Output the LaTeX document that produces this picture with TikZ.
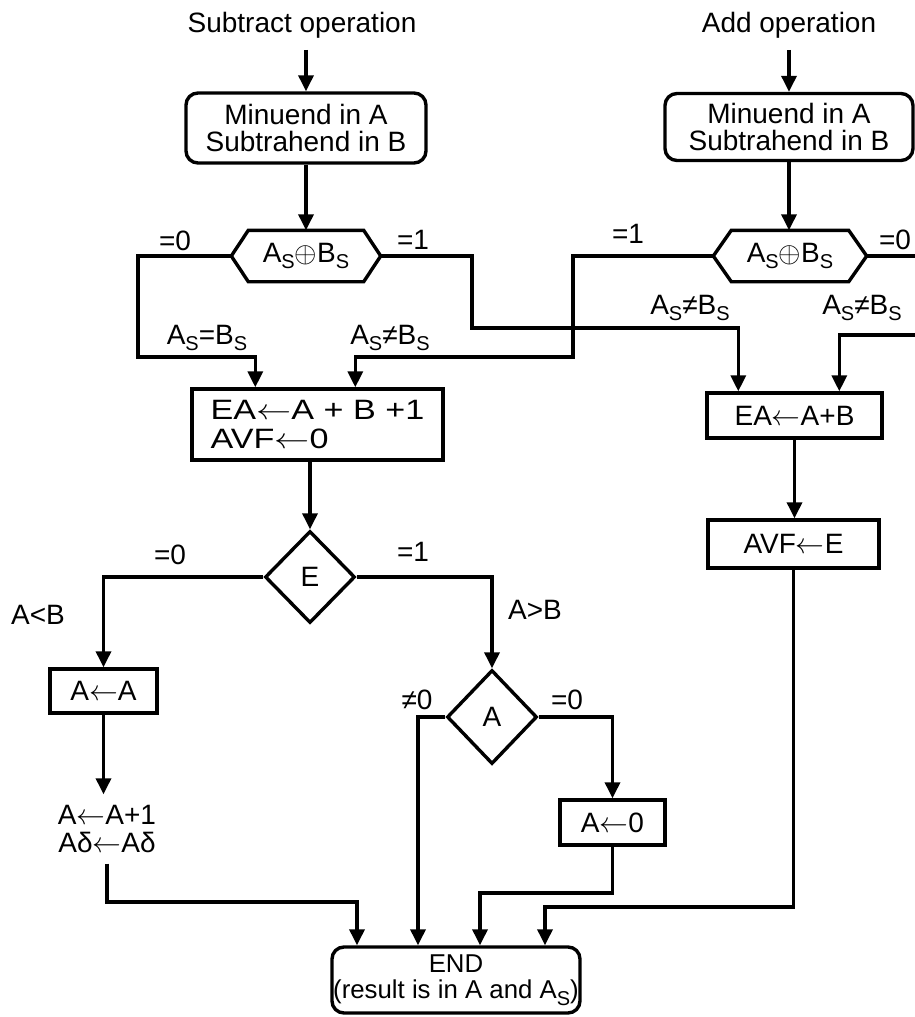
\documentclass[tikz,border=0pt]{standalone}
\usepackage{fontspec}
\usepackage{graphicx}
\setmainfont{Liberation Sans}
\usetikzlibrary{arrows.meta,shapes.geometric,calc}
\newcommand\lsub[1]{\raisebox{-0.45ex}{\fontsize{10}{10}\selectfont #1}}
\newcommand\myarr{\ensuremath{\leftarrow}}
\begin{document}
\begin{tikzpicture}[x=0.5pt,y=-0.5pt, line width=1.7pt,
 every node/.style={font=\fontsize{14}{13.5}\selectfont},
 arr/.style={-{Triangle[length=8pt,width=7.5pt]}},
 box/.style={draw, rectangle, inner sep=0pt},
 rbox/.style={draw, rectangle, rounded corners=6pt, inner sep=0pt, align=center},
 dia/.style={draw, diamond, inner sep=0pt},
 hexnode/.style={inner sep=0pt, minimum height=24pt},
 lbl/.style={inner sep=0pt}]
\useasboundingbox (0,0) rectangle (915,1017);
\fill[white] (0,0) rectangle (915,1017);

% headers
\node[lbl] (sub) at (302,25) {Subtract operation};
\node[lbl] (add) at (789,25) {Add operation};

% start boxes
\node[rbox, minimum width=120pt, minimum height=35pt] (b1) at (306,128) {Minuend in A\\Subtrahend in B};
\node[rbox, minimum width=124pt, minimum height=33.5pt] (b2) at (789,127) {Minuend in A\\Subtrahend in B};

% hexagons
\node[hexnode, minimum width=73pt] (h1) at (306,256) {A\lsub{S}$\oplus$B\lsub{S}};
\draw (h1.west) -- ($(h1.north west)+(17,0)$) -- ($(h1.north east)+(-17,0)$) -- (h1.east)
  -- ($(h1.south east)+(-17,0)$) -- ($(h1.south west)+(17,0)$) -- cycle;
\node[hexnode, minimum width=75pt] (h2) at (790,256) {A\lsub{S}$\oplus$B\lsub{S}};
\draw (h2.west) -- ($(h2.north west)+(18,0)$) -- ($(h2.north east)+(-18,0)$) -- (h2.east)
  -- ($(h2.south east)+(-18,0)$) -- ($(h2.south west)+(18,0)$) -- cycle;

% operation boxes
\node[box, minimum width=125.5pt, minimum height=35.5pt, align=left, font=\fontsize{14}{14.5}\selectfont] (r1) at (317.5,424.5)
  {\scalebox{1.22}[1]{EA\myarr A + B +1}\\\scalebox{1.22}[1]{AVF\myarr 0}};
\node[box, minimum width=87.5pt, minimum height=22.5pt] (r2) at (794.5,415.5) {EA\myarr A+B};
\node[box, minimum width=85.5pt, minimum height=24pt] (avf) at (793.5,544) {AVF\myarr E};

% decisions
\node[dia, minimum width=45pt, minimum height=46pt] (E) at (310,577) {E};
\node[dia, minimum width=45pt, minimum height=47pt] (Ad) at (492,717) {A};

\node[box, minimum width=53.5pt, minimum height=22pt] (lA) at (103.5,691) {A\myarr A};
\node[lbl, minimum height=33pt, align=center, font=\fontsize{14}{14}\selectfont] (t1) at (107,829) {A\myarr A+1\\Aδ\myarr Aδ};
\node[box, minimum width=52.5pt, minimum height=22.5pt] (a0) at (612.5,822.5) {A\myarr 0};

\node[rbox, minimum width=124pt, minimum height=33pt, font=\fontsize{12.9}{13.2}\selectfont] (fin) at (456,980) {END\\(result is in A and A\lsub{S})};

% bend points
\coordinate (p1) at (357,902);
\coordinate (p2) at (418,717);
\coordinate (p3) at (480,893);
\coordinate (p4) at (545,907);

% connectors
\draw[arr, shorten <=5pt] (b1.north |- sub.south) -- (b1.north);
\draw[arr] (b1.south) -- (b1.south |- h1.north);
\draw[arr, shorten <=5pt] (add.south) -- (b2.north);
\draw[arr] (b2.south) -- (b2.south |- h2.north);

\draw[arr] (h1.west) -| (138,357) -| ($(r1.north west)+(65,0)$);
\draw[arr] (h1.east) -| (472,328) -| ($(r2.north west)+(33,0)$);
\draw[arr] (h2.west) -| (573,357) -| ($(r1.north west)+(165,0)$);
\begin{scope}
\clip (0,0) rectangle (915,1017);
\draw[arr] (h2.east) -| (945,335) -| ($(r2.north west)+(134,0)$);
\end{scope}

\draw[arr] (E.north |- r1.south) -- (E.north);
\draw[arr] (E.west) -| (lA.north);
\draw[arr] (E.east) -| (Ad.north);
\draw[arr] (lA.south) -- (lA.south |- t1.north);
\draw[arr] (t1.south) |- (p1) -- (p1 |- fin.north);
\draw[arr] (Ad.west) -- (p2) -- (p2 |- fin.north);
\draw[arr] (Ad.east) -| (a0.north);
\draw[arr] (a0.south) |- (p3) -- (p3 |- fin.north);
\draw[arr] (r2.south) -- (r2.south |- avf.north);
\draw[arr] (avf.south) |- (p4) -- (p4 |- fin.north);

% labels
\node[lbl] (l1) at (175,241) {=0};
\node[lbl] (l2) at (413,240) {=1};
\node[lbl] (l3) at (628,234) {=1};
\node[lbl] (l4) at (895,240) {=0};
\node[lbl] (l5) at (207,338) {A\lsub{S}=B\lsub{S}};
\node[lbl] (l6) at (390,338) {A\lsub{S}≠B\lsub{S}};
\node[lbl] (l7) at (690,308) {A\lsub{S}≠B\lsub{S}};
\node[lbl] (l8) at (862,308) {A\lsub{S}≠B\lsub{S}};
\node[lbl] (l9) at (170,555) {=0};
\node[lbl] (l10) at (413,552) {=1};
\node[lbl] (l11) at (38,615) {A<B};
\node[lbl] (l12) at (535,610) {A>B};
\node[lbl] (l13) at (417,700) {≠0};
\node[lbl] (l14) at (567,700) {=0};
\end{tikzpicture}
\end{document}
